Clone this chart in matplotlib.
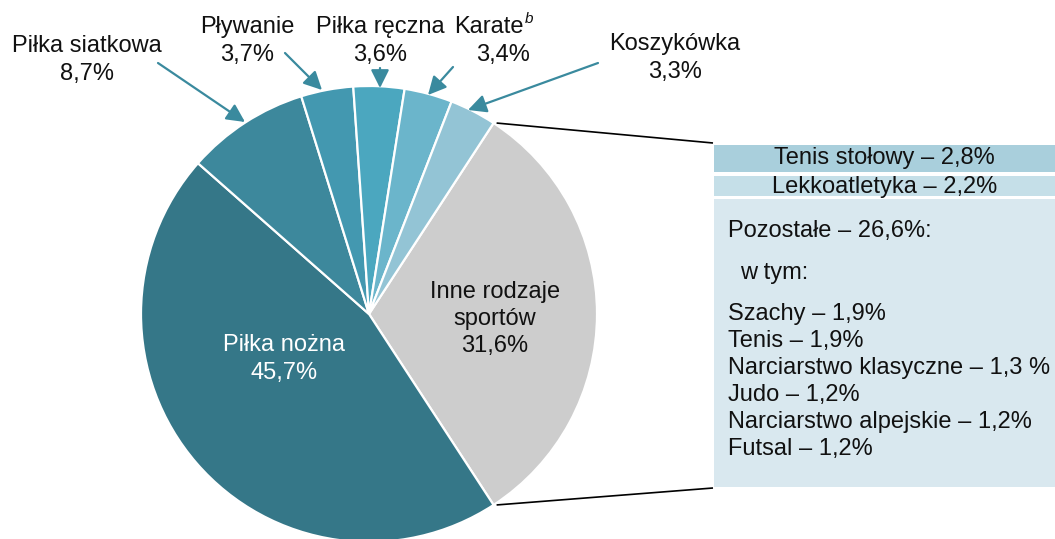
import numpy as np
import matplotlib
matplotlib.use("Agg")
import matplotlib.pyplot as plt
from matplotlib.patches import Rectangle

plt.rcParams["font.family"] = ["Liberation Sans", "DejaVu Sans"]

# ── Data ──────────────────────────────────────────────────────────────────────
sports = ["Inne rodzaje\nsportów", "Piłka nożna", "Piłka siatkowa", "Pływanie",
          "Piłka ręczna", "Karate", "Koszykówka"]
shares = [31.6, 45.7, 8.7, 3.7, 3.6, 3.4, 3.3]
colors = ["#cdcdcd", "#357788", "#3d889c", "#4398b0", "#4ba7bf", "#6bb5cb", "#93c4d5"]

other_top = ["Tenis stołowy – 2,8%", "Lekkoatletyka – 2,2%"]
other_rest_head = "Pozostałe – 26,6%:"
other_rest_items = ["Szachy – 1,9%", "Tenis – 1,9%", "Narciarstwo klasyczne – 1,3 %",
                    "Judo – 1,2%", "Narciarstwo alpejskie – 1,2%", "Futsal – 1,2%"]


def pct(v):
    return f"{v:.1f}%".replace(".", ",")


W, H = 1055, 539
fig = plt.figure(figsize=(W / 100, H / 100), dpi=100)
ax = fig.add_axes([0, 0, 1, 1])

# ── Pie (pixel coords, y axis inverted -> counterclock in data = clockwise on screen)
cx, cy, r = 369, 314, 228
half = shares[0] / 100 * 360 / 2
wedges, _ = ax.pie(shares, colors=colors, startangle=-half, counterclock=True,
                   center=(cx, cy), radius=r,
                   wedgeprops=dict(edgecolor="white", linewidth=1.6))
ax.set_xlim(0, W)
ax.set_ylim(H, 0)
ax.set_aspect("equal")
ax.set_axis_off()

FS = 17
LS = 1.32
TXT = "#111111"

# labels inside the pie
ax.text(284, 359, f"{sports[1]}\n{pct(shares[1])}", ha="center", va="center",
        fontsize=FS, color="white", linespacing=LS)
ax.text(495, 319, f"{sports[0]}\n{pct(shares[0])}", ha="center", va="center",
        fontsize=FS, color=TXT, linespacing=LS)

# outside labels with arrows
arrow_kw = dict(arrowstyle="-|>,head_length=1.0,head_width=0.5", color="#3a8a9e",
                lw=1.6, mutation_scale=11, shrinkA=0, shrinkB=0)
outside = [
    (2, (87, 60), (158, 63), (245, 122)),
    (3, (247, 41), (285, 53), (322, 90)),
    (4, (380, 41), (380, 68), (380, 88)),
    (6, (675, 58), (598, 63), (468, 110)),
]
for i, (tx, ty), a0, a1 in outside:
    ax.text(tx, ty, f"{sports[i]}\n{pct(shares[i])}", ha="center", va="center",
            fontsize=FS, color=TXT, linespacing=LS)
    ax.annotate("", xy=a1, xytext=a0, arrowprops=arrow_kw)

# Karate with superscript b
ax.text(524, 27, sports[5], ha="right", va="center", fontsize=FS, color=TXT)
ax.text(525, 19, "b", ha="left", va="center", fontsize=11, style="italic", color=TXT)
ax.text(503, 55, pct(shares[5]), ha="center", va="center", fontsize=FS, color=TXT)
ax.annotate("", xy=(428, 95), xytext=(453, 67), arrowprops=arrow_kw)

# ── Breakdown box for "Inne rodzaje sportów"
bx = 714
ax.add_patch(Rectangle((bx, 145), W - bx, 27, facecolor="#a9cfdc", edgecolor="none"))
ax.add_patch(Rectangle((bx, 176), W - bx, 20, facecolor="#c5dfe8", edgecolor="none"))
ax.add_patch(Rectangle((bx, 199), W - bx, 288, facecolor="#d9e8ef", edgecolor="none"))

ax.text(884, 158, other_top[0], ha="center", va="center", fontsize=FS, color=TXT)
ax.text(885, 187, other_top[1], ha="center", va="center", fontsize=FS, color=TXT)
ax.text(728, 231, other_rest_head, ha="left", va="center", fontsize=FS, color=TXT)
ax.text(740, 273, "w tym:", ha="left", va="center", fontsize=FS, color=TXT)
for k, item in enumerate(other_rest_items):
    ax.text(728, 314 + 27 * k, item, ha="left", va="center", fontsize=FS, color=TXT)

# connector lines from the edges of the "Inne" wedge to the box
for ang in (half, -half):
    px = cx + r * np.cos(np.radians(ang))
    py = cy - r * np.sin(np.radians(ang))
    by = 143 if ang > 0 else 488
    ax.plot([px + 3, bx - 1], [py, by], color="black", lw=1.2, solid_capstyle="butt")

fig.savefig("out.png", dpi=100)
